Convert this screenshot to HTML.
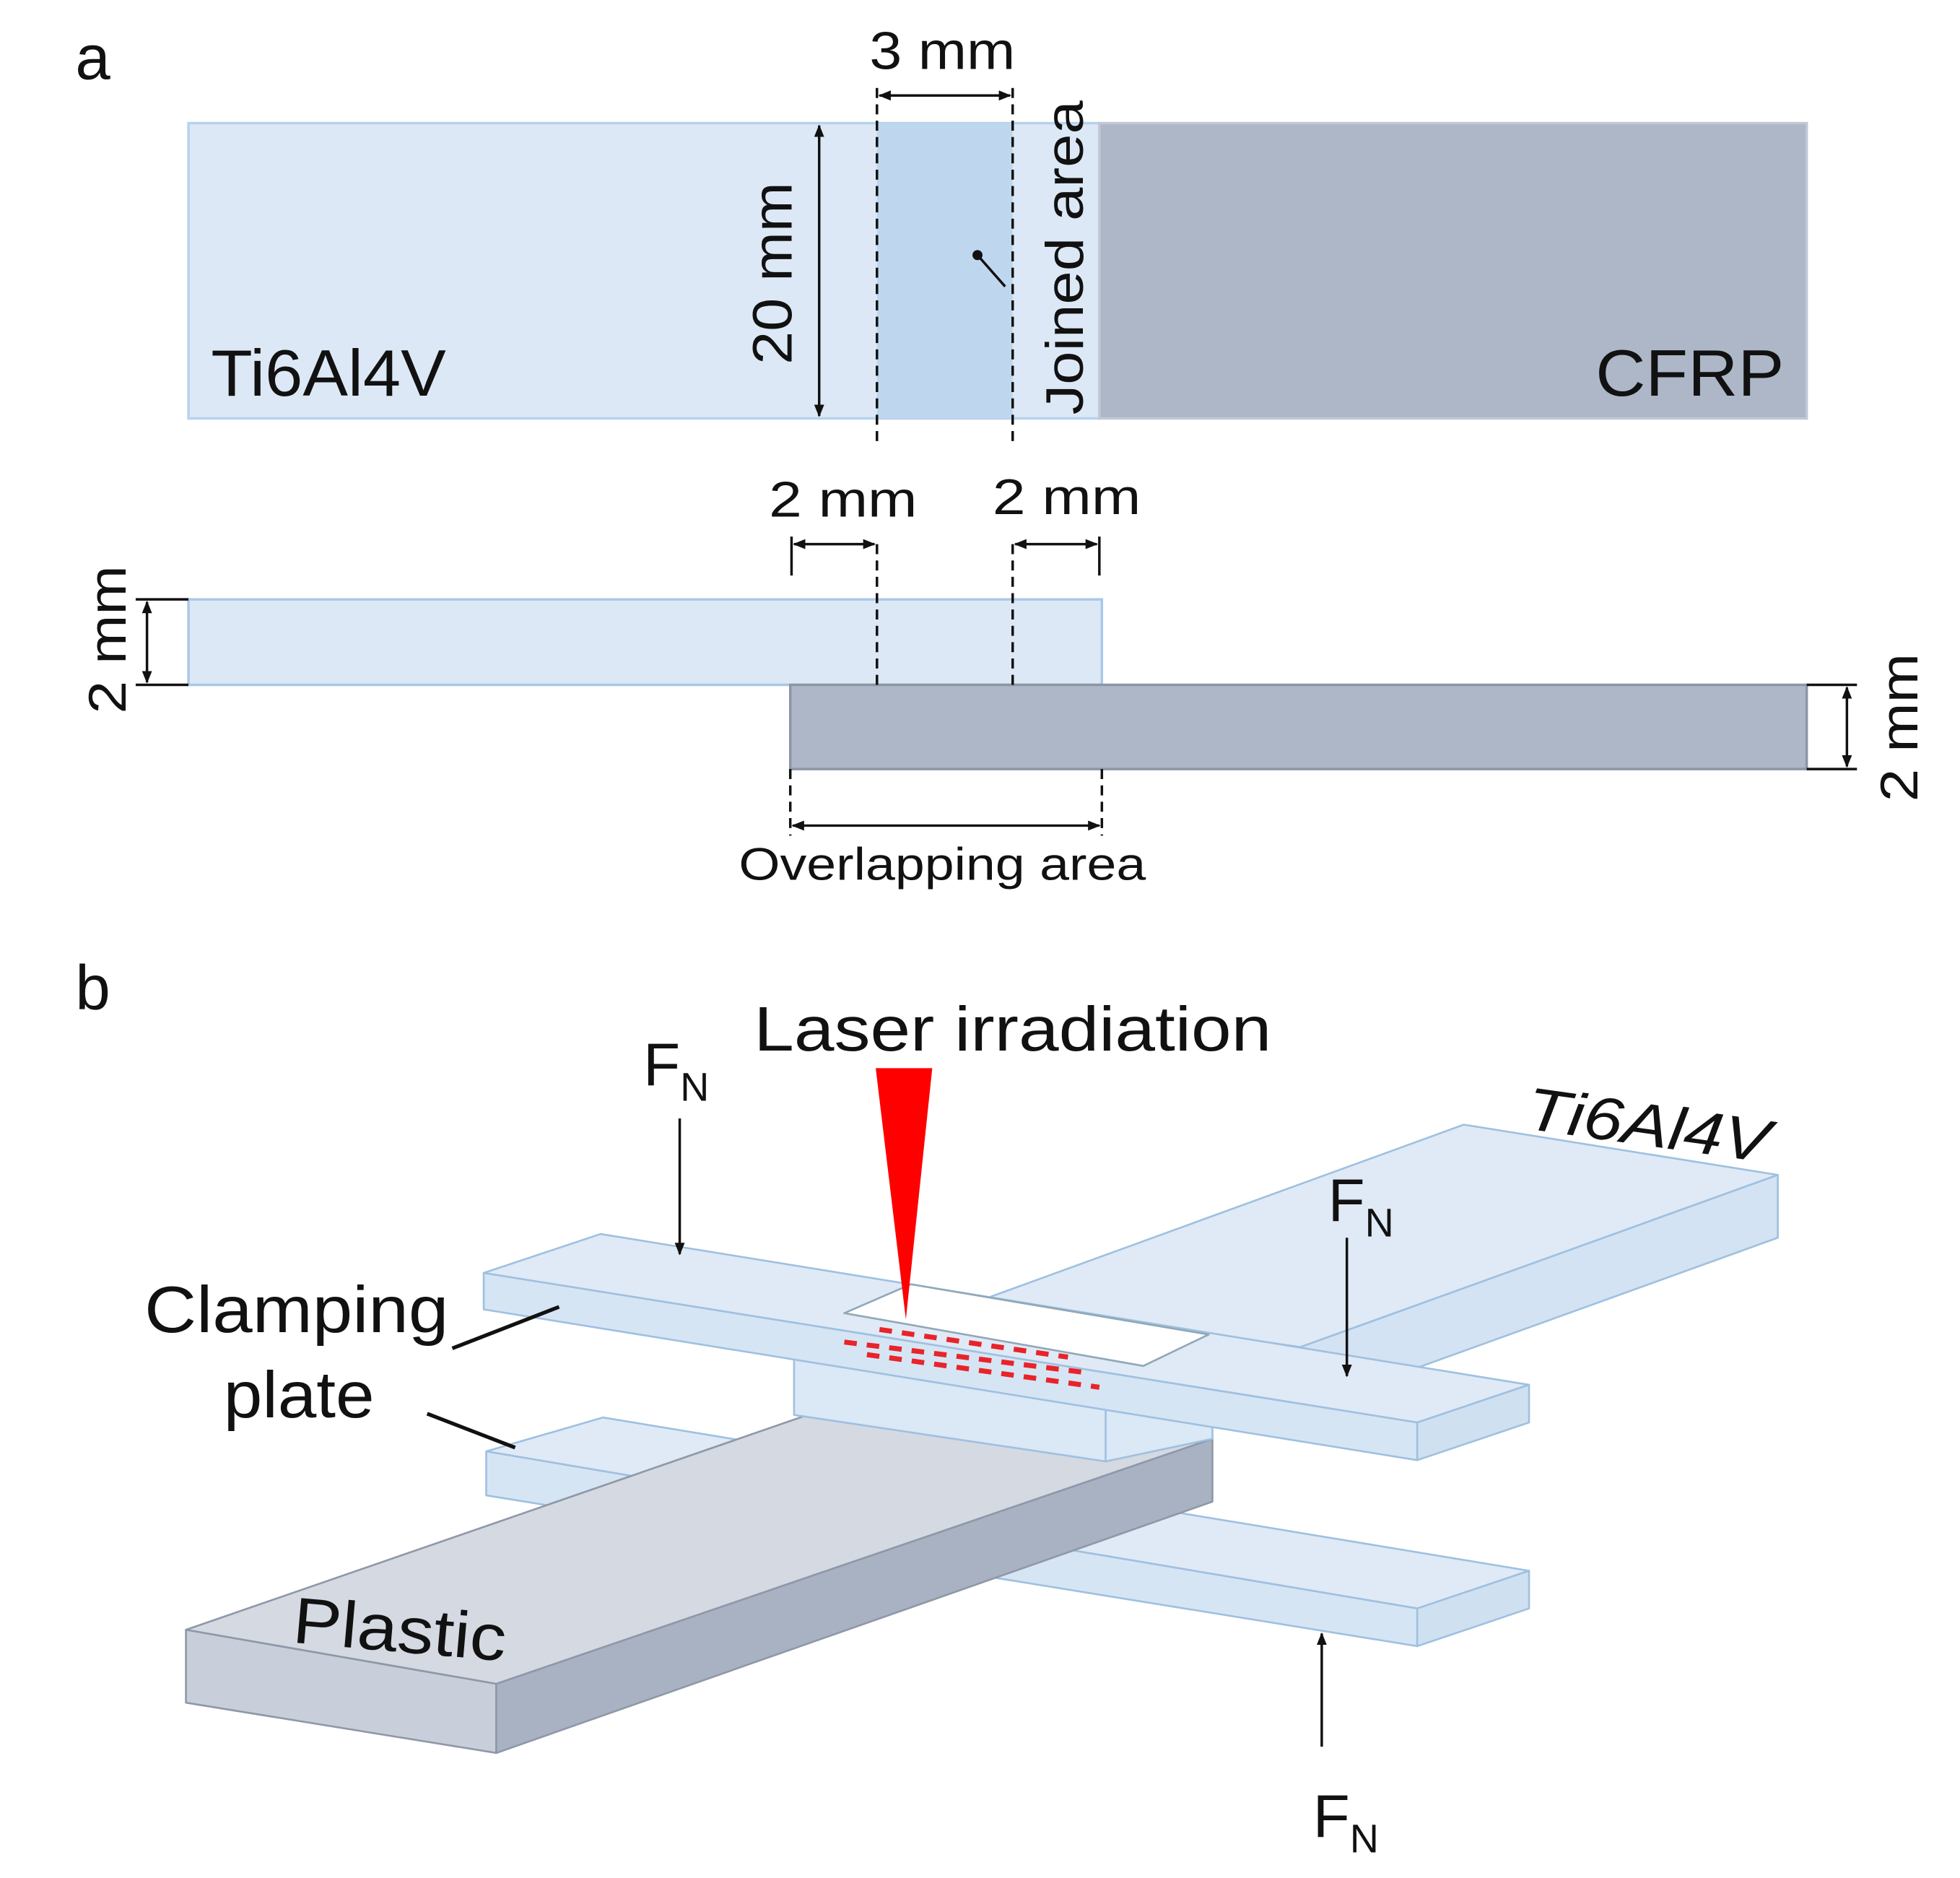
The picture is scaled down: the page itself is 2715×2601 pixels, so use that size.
<!DOCTYPE html>
<html><head><meta charset="utf-8"><style>html,body{margin:0;padding:0;background:#fff}svg{display:block}</style></head>
<body>
<svg width="2715" height="2601" viewBox="0 0 1560 1494.5" preserveAspectRatio="none" xmlns="http://www.w3.org/2000/svg" font-family="Liberation Sans, sans-serif">
<defs>
<marker id="ar" markerWidth="10" markerHeight="10" refX="9" refY="5" orient="auto-start-reverse" markerUnits="userSpaceOnUse"><path d="M0,1 L10,5 L0,9 z" fill="#111"/></marker>
</defs>
<rect width="1560" height="1495" fill="#fff"/>
<!-- a -->
<text x="60" y="63" font-size="50" fill="#111">a</text>
<rect x="150" y="98" width="725" height="235" fill="#dce8f5" stroke="#b7d2ee" stroke-width="2"/>
<rect x="698" y="98" width="108" height="235" fill="#bfd7ee"/>
<rect x="875" y="98" width="563" height="235" fill="#adb7c8" stroke="#c0c8d6" stroke-width="2"/>
<line x1="698" y1="70" x2="698" y2="355" stroke="#111" stroke-width="2" stroke-dasharray="8,5"/>
<line x1="806" y1="70" x2="806" y2="355" stroke="#111" stroke-width="2" stroke-dasharray="8,5"/>
<line x1="700" y1="76" x2="804" y2="76" stroke="#111" stroke-width="2" marker-start="url(#ar)" marker-end="url(#ar)"/>
<text x="692" y="55" font-size="42" textLength="116" lengthAdjust="spacingAndGlyphs" fill="#111">3 mm</text>
<line x1="652" y1="100" x2="652" y2="331" stroke="#111" stroke-width="2" marker-start="url(#ar)" marker-end="url(#ar)"/>
<text transform="translate(630,290) rotate(-90)" font-size="44" textLength="145" lengthAdjust="spacingAndGlyphs" fill="#111">20 mm</text>
<text transform="translate(862,330) rotate(-90)" font-size="42" textLength="250" lengthAdjust="spacingAndGlyphs" fill="#111">Joined area</text>
<circle cx="778" cy="203" r="4" fill="#111"/>
<line x1="778" y1="203" x2="800" y2="228" stroke="#111" stroke-width="2"/>
<text x="168" y="315" font-size="52" textLength="187" lengthAdjust="spacingAndGlyphs" fill="#111">Ti6Al4V</text>
<text x="1270" y="315" font-size="52" textLength="150" lengthAdjust="spacingAndGlyphs" fill="#111">CFRP</text>
<!-- side view -->
<text x="612" y="411" font-size="40" textLength="118" lengthAdjust="spacingAndGlyphs" fill="#111">2 mm</text>
<text x="790" y="409" font-size="40" textLength="118" lengthAdjust="spacingAndGlyphs" fill="#111">2 mm</text>
<line x1="630" y1="427" x2="630" y2="458" stroke="#111" stroke-width="2"/>
<line x1="875" y1="427" x2="875" y2="458" stroke="#111" stroke-width="2"/>
<line x1="632" y1="433" x2="696" y2="433" stroke="#111" stroke-width="2" marker-start="url(#ar)" marker-end="url(#ar)"/>
<line x1="808" y1="433" x2="873" y2="433" stroke="#111" stroke-width="2" marker-start="url(#ar)" marker-end="url(#ar)"/>
<rect x="150" y="477" width="727" height="68" fill="#dce8f5" stroke="#a9c8e8" stroke-width="2"/>
<rect x="629" y="545" width="809" height="67" fill="#adb7c8" stroke="#8d96a5" stroke-width="2"/>
<line x1="698" y1="433" x2="698" y2="545" stroke="#111" stroke-width="2" stroke-dasharray="8,5"/>
<line x1="806" y1="433" x2="806" y2="545" stroke="#111" stroke-width="2" stroke-dasharray="8,5"/>
<line x1="629" y1="612" x2="629" y2="665" stroke="#111" stroke-width="2" stroke-dasharray="8,5"/>
<line x1="877" y1="612" x2="877" y2="665" stroke="#111" stroke-width="2" stroke-dasharray="8,5"/>
<line x1="631" y1="657" x2="875" y2="657" stroke="#111" stroke-width="2" marker-start="url(#ar)" marker-end="url(#ar)"/>
<text x="588" y="700" font-size="36" textLength="324" lengthAdjust="spacingAndGlyphs" fill="#111">Overlapping area</text>
<line x1="108" y1="477" x2="150" y2="477" stroke="#111" stroke-width="2"/>
<line x1="108" y1="545" x2="150" y2="545" stroke="#111" stroke-width="2"/>
<line x1="117" y1="479" x2="117" y2="543" stroke="#111" stroke-width="2" marker-start="url(#ar)" marker-end="url(#ar)"/>
<text transform="translate(100,568) rotate(-90)" font-size="42" textLength="118" lengthAdjust="spacingAndGlyphs" fill="#111">2 mm</text>
<line x1="1438" y1="545" x2="1478" y2="545" stroke="#111" stroke-width="2"/>
<line x1="1438" y1="612" x2="1478" y2="612" stroke="#111" stroke-width="2"/>
<line x1="1470" y1="547" x2="1470" y2="610" stroke="#111" stroke-width="2" marker-start="url(#ar)" marker-end="url(#ar)"/>
<text transform="translate(1526,638) rotate(-90)" font-size="42" textLength="118" lengthAdjust="spacingAndGlyphs" fill="#111">2 mm</text>
<!-- b -->
<text x="60" y="803" font-size="50" fill="#111">b</text>
<g stroke="#9fc0e0" stroke-width="1.5" stroke-linejoin="round">
<polygon points="780,1035 1165,895 1415,935 1035,1072" fill="#dfeaf6"/>
<polygon points="1035,1072 1415,935 1415,985 1035,1122" fill="#d3e3f3"/>
<polygon points="387,1155 480,1128 1217,1250 1128,1280" fill="#dfeaf6"/>
<polygon points="387,1155 1128,1280 1128,1310 387,1190" fill="#d6e5f4"/>
<polygon points="1128,1280 1217,1250 1217,1280 1128,1310" fill="#cfe0f1"/>
</g>
<g stroke="#8f98a8" stroke-width="1.5" stroke-linejoin="round">
<polygon points="148,1297 395,1340 965,1145 718,1100" fill="#d4d9e2"/>
<polygon points="148,1297 395,1340 395,1395 148,1355" fill="#c9cfda"/>
<polygon points="395,1340 965,1145 965,1195 395,1395" fill="#a9b2c2"/>
</g>
<g stroke="#9fc0e0" stroke-width="1.5" stroke-linejoin="round">
<polygon points="632,1080 965,1135 965,1145 880,1163 632,1126" fill="#dbe8f5"/>
<line x1="880" y1="1120" x2="880" y2="1163"/>
<polygon points="385,1013 478,982 1217,1102 1128,1132" fill="#dfeaf6"/>
<polygon points="385,1013 1128,1132 1128,1162 385,1042" fill="#d6e5f4"/>
<polygon points="1128,1132 1217,1102 1217,1132 1128,1162" fill="#cfe0f1"/>
<polygon points="672,1045 725,1022 962,1062 910,1087" fill="#ffffff" stroke="#8fa8b8"/>
</g>
<g stroke="#e8242a" stroke-width="4" stroke-dasharray="10,8" fill="none">
<line x1="700" y1="1058" x2="850" y2="1080"/>
<line x1="672" y1="1068" x2="862" y2="1092"/>
<line x1="690" y1="1078" x2="875" y2="1104"/>
</g>
<polygon points="697,850 742,850 721,1050" fill="#f00"/>
<text x="600" y="836" font-size="50" textLength="412" lengthAdjust="spacingAndGlyphs" fill="#111">Laser irradiation</text>
<text x="512" y="864" font-size="48" fill="#111">F<tspan font-size="32" dy="12">N</tspan></text>
<line x1="541" y1="890" x2="541" y2="998" stroke="#111" stroke-width="2" marker-end="url(#ar)"/>
<text x="1057" y="972" font-size="48" fill="#111">F<tspan font-size="32" dy="12">N</tspan></text>
<line x1="1072" y1="985" x2="1072" y2="1095" stroke="#111" stroke-width="2" marker-end="url(#ar)"/>
<text x="1045" y="1462" font-size="48" fill="#111">F<tspan font-size="32" dy="12">N</tspan></text>
<line x1="1052" y1="1390" x2="1052" y2="1300" stroke="#111" stroke-width="2" marker-end="url(#ar)"/>
<text transform="translate(1213,898) rotate(8)" font-size="48" textLength="195" lengthAdjust="spacingAndGlyphs" fill="#111" font-style="italic">Ti6Al4V</text>
<text x="115" y="1060" font-size="52" textLength="242" lengthAdjust="spacingAndGlyphs" fill="#111">Clamping</text>
<text x="178" y="1128" font-size="52" textLength="120" lengthAdjust="spacingAndGlyphs" fill="#111">plate</text>
<line x1="360" y1="1073" x2="445" y2="1040" stroke="#111" stroke-width="3"/>
<line x1="340" y1="1125" x2="410" y2="1152" stroke="#111" stroke-width="3"/>
<text transform="translate(232,1307) rotate(5)" font-size="52" textLength="170" lengthAdjust="spacingAndGlyphs" fill="#111">Plastic</text>
</svg>
</body></html>
